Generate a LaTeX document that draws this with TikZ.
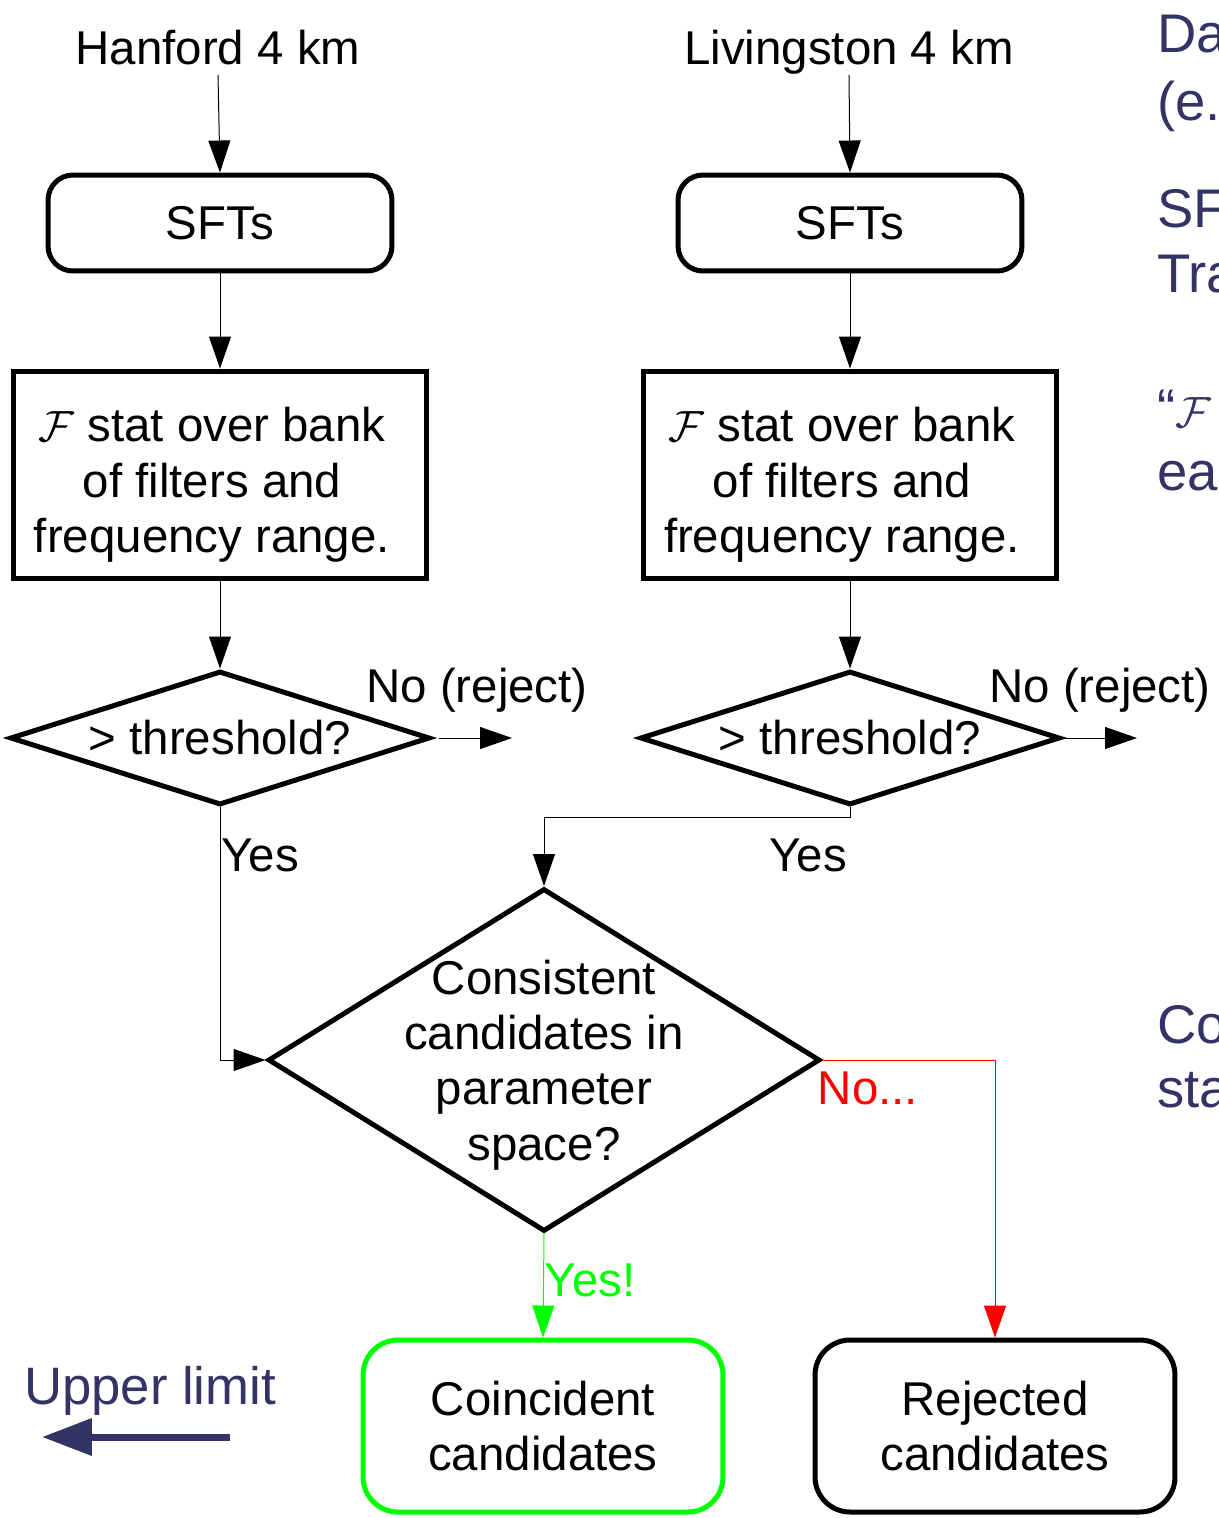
\documentclass[tikz,border=0pt]{standalone}
\usepackage{fontspec}
\setmainfont{Liberation Sans}
\usepackage{xcolor}
\usepackage{tikz}
\usetikzlibrary{arrows.meta,shapes.geometric}

\definecolor{navy}{RGB}{51,51,102}
\definecolor{okgreen}{RGB}{0,255,0}
\definecolor{nored}{RGB}{255,0,0}

\tikzset{
	every node/.style={font=\fontsize{27}{31.5}\selectfont},
	sftbox/.style={draw, rounded corners=0.5cm, line width=0.1cm, minimum width=6.88cm, minimum height=1.92cm},
	statbox/.style={draw, line width=0.1cm, minimum width=8.28cm, minimum height=4.16cm, inner sep=0},
	thresh/.style={draw, diamond, line width=0.1cm, minimum width=8.4cm, minimum height=2.68cm, inner sep=0},
	outbox/.style={draw, rounded corners=0.7cm, line width=0.1cm, minimum width=7.2cm, minimum height=3.44cm, align=center},
	flow/.style={line width=0.02cm, -{Triangle[length=0.64cm,width=0.44cm]}},
	side/.style={navy, anchor=base west, inner sep=0, font=\fontsize{31}{37}\selectfont}
}

\begin{document}
\begin{tikzpicture}[x=0.02cm, y=-0.02cm]
		\useasboundingbox (0,0) rectangle (1219,1518);
		% detectors
		\node[anchor=base] (hlab) at (218,64) {Hanford 4 km};
		\node[anchor=base] (llab) at (849,64) {Livingston 4 km};
		\node[sftbox] (hsft) at (220,223) {SFTs};
		\node[sftbox] (lsft) at (850,223) {SFTs};
		\node[statbox] (hstat) at (220,475) {};
		\node[align=center] (hstattext) at (212,485) {$\mathcal{F}$ stat over bank\\of filters and\\frequency range.};
		\node[statbox] (lstat) at (850,475) {};
		\node[align=center] (lstattext) at (842,485) {$\mathcal{F}$ stat over bank\\of filters and\\frequency range.};
		\node[thresh] (hthr) at (220,738) {};
		\node (hthrtext) at (220,738) {> threshold?};
		\node[thresh] (lthr) at (850,738) {};
		\node (lthrtext) at (850,738) {> threshold?};
		\draw[flow] ([yshift=-0.22cm]hlab.base) -- (hsft.north);
		\draw[flow] ([yshift=-0.22cm]llab.base) -- (lsft.north);
		\draw[flow] (hsft.south) -- (hstat.north);
		\draw[flow] (lsft.south) -- (lstat.north);
		\draw[flow] (hstat.south) -- (hthr.north);
		\draw[flow] (lstat.south) -- (lthr.north);
		% rejects
		\coordinate (hrej) at (512,738);
		\coordinate (lrej) at (1137,738);
		\draw[flow] ([xshift=0.14cm]hthr.east) -- (hrej);
		\draw[flow] (lthr.east) -- (lrej);
		\node (hno) at (477,690) {No (reject)};
		\node (lno) at (1100,690) {No (reject)};
		% coincidence
		\node[draw, diamond, line width=0.1cm, minimum width=11.04cm, minimum height=6.86cm, inner sep=0] (cons) at (544,1060) {};
		\node[align=center] (constext) at (544,1065) {Consistent\\candidates in\\parameter\\space?};
		\draw[flow] (hthr.south) |- (cons.west);
		\draw[flow] (lthr.south) -- ++(0,10) -| (cons.north);
		\node (hyes) at (260,855) {Yes};
		\node (lyes) at (808,855) {Yes};
		\node[outbox, okgreen] (coin) at (543,1426) {\color{black}Coincident\\\color{black}candidates};
		\node[outbox] (rej) at (995,1426) {Rejected\\candidates};
		\draw[flow, okgreen] (cons.south) -- (coin.north);
		\draw[flow, nored] (cons.east) -| (rej.north);
		\node[okgreen] (yesok) at (590,1280) {Yes!};
		\node[nored] (nobad) at (868,1088) {No...};
		% upper limit
		\node[navy, font=\fontsize{30}{36}\selectfont] (ultext) at (150,1391) {Upper limit};
		\coordinate (ulstart) at (230,1437);
		\coordinate (ulend) at (42,1437);
		\draw[navy, line width=0.14cm, -{Triangle[length=1cm,width=0.72cm]}] (ulstart) -- (ulend);
		% cut-off text at right edge
		\node[side] (s1) at (1157,52) {Da};
		\node[side] (s2) at (1157,120) {(e.};
		\node[side] (s3) at (1157,227) {SF};
		\node[side] (s4) at (1157,292) {Tra};
		\node[side] (s5) at (1157,427) {“$\mathcal{F}$};
		\node[side] (s6) at (1157,490) {ea};
		\node[side] (s7) at (1157,1043) {Co};
		\node[side] (s8) at (1157,1107) {sta};
	\end{tikzpicture}
\end{document}
